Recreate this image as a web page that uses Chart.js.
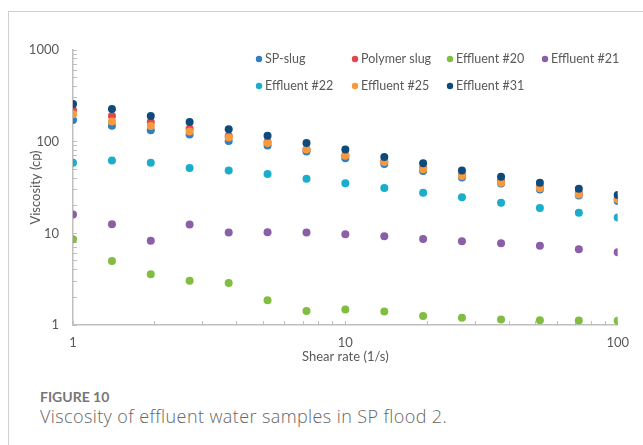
<!DOCTYPE html>
<html>
<head>
<meta charset="utf-8">
<script src="https://cdn.jsdelivr.net/npm/chart.js@4.4.1/dist/chart.umd.min.js"></script>
<style>
  html, body { margin: 0; padding: 0; background: #fff; }
  body { width: 643px; height: 445px; position: relative; overflow: hidden; font-family: Lato, "Open Sans", sans-serif; }
  .frame { position: absolute; left: 8px; top: 11px; right: -4px; bottom: -4px; border-top: 1.5px solid #d0d0d0; border-left: 1.5px solid #d0d0d0; }
  #wrap { position: absolute; left: 0; top: 0; width: 643px; height: 368px; }
  .fig { position: absolute; left: 40px; top: 389px; font-size: 14px; line-height: 16px; font-weight: bold; color: #777; }
  .cap { position: absolute; left: 40px; top: 405px; font-family: "Open Sans", Lato, sans-serif; font-size: 18px; font-weight: 300; letter-spacing: 0.4px; line-height: 22px; color: #666; }
</style>
</head>
<body>
<div class="frame"></div>
<div id="wrap"><canvas id="viscChart"></canvas></div>
<div class="fig">FIGURE 10</div>
<div class="cap">Viscosity of effluent water samples in SP flood 2.</div>
<script>
// shear rates (1/s)
const shearRate = [1, 1.39, 1.93, 2.68, 3.73, 5.18, 7.2, 10, 13.9, 19.3, 26.8, 37.3, 51.8, 72, 100];

// viscosity (cp)
const spSlug      = [172, 149, 133, 120, 102, 91, 78, 66, 57, 47.8, 40.6, 34.9, 30, 25.8, 22.5];
const polymerSlug = [221, 190, 164, 138, 115, 99, 82, 71, 61, 51.5, 43.2, 37.2, 32, 27.5, 24];
const eff20       = [8.6, 5.0, 3.57, 3.04, 2.87, 1.86, 1.42, 1.48, 1.40, 1.25, 1.20, 1.15, 1.13, 1.12, 1.11];
const eff21       = [16.0, 12.6, 8.3, 12.5, 10.2, 10.3, 10.2, 9.8, 9.3, 8.7, 8.2, 7.8, 7.3, 6.7, 6.2];
const eff22       = [58.9, 62.5, 58.9, 51.5, 48.6, 44.3, 39.4, 35.1, 31.2, 27.7, 24.7, 21.6, 18.9, 16.8, 14.9];
const eff25       = [199, 166, 148, 129, 111, 97, 82, 70, 60, 49.9, 42.2, 35.6, 31, 26.6, 23.5];
const eff31       = [257, 227, 190, 164, 137, 116, 97, 82, 68, 58, 48.6, 41.4, 35.6, 30.6, 26.2];

const seriesNames  = ["SP-slug", "Polymer slug", "Effluent #20", "Effluent #21", "Effluent #22", "Effluent #25", "Effluent #31"];
const seriesValues = [spSlug, polymerSlug, eff20, eff21, eff22, eff25, eff31];
const seriesColors = ["#2f7fc1", "#e0474c", "#80bd41", "#8b5ea8", "#1aaecc", "#f89a3c", "#0e4a7c"];

// tick marks and labelled ticks
const xTickValues = [1, 2, 3, 4, 5, 6, 7, 8, 9, 10, 20, 30, 40, 50, 60, 70, 80, 90, 100];
const xTickLabels = [1, 10, 100];
const yTickValues = [1, 2, 3, 4, 5, 6, 7, 8, 9, 10, 20, 30, 40, 50, 60, 70, 80, 90, 100,
                     200, 300, 400, 500, 600, 700, 800, 900, 1000];
const yTickLabels = [1, 10, 100, 1000];

const textColor = "#595959";
const axisColor = "#bfbfbf";
const fontFamily = "Lato, 'Open Sans', sans-serif";

const datasets = seriesNames.map((name, i) => ({
  label: name,
  data: shearRate.map((x, j) => ({ x: x, y: seriesValues[i][j] })),
  backgroundColor: seriesColors[i],
  borderColor: seriesColors[i],
  borderWidth: 0,
  pointRadius: 4,
  pointHoverRadius: 4,
  showLine: false,
  order: seriesNames.length - i,
}));

// Excel-like legend inside the plot: 4 columns, 2 rows
const legendGrid = {
  id: "legendGrid",
  afterDraw(chart) {
    const ctx = chart.ctx;
    const cols = [259, 355, 450, 545];
    const rows = [59, 86];
    ctx.save();
    ctx.font = "12.5px " + fontFamily;
    ctx.textBaseline = "middle";
    ctx.textAlign = "left";
    chart.data.datasets.forEach((ds, i) => {
      const cx = cols[i % 4];
      const cy = rows[Math.floor(i / 4)];
      ctx.fillStyle = ds.backgroundColor;
      ctx.beginPath();
      ctx.arc(cx, cy, 3.2, 0, Math.PI * 2);
      ctx.fill();
      ctx.fillStyle = textColor;
      ctx.fillText(ds.label, cx + 6, cy);
    });
    ctx.restore();
  },
};

const ctx = document.getElementById("viscChart").getContext("2d");
new Chart(ctx, {
  type: "scatter",
  data: { datasets: datasets },
  options: {
    responsive: true,
    maintainAspectRatio: false,
    animation: false,
    layout: { padding: { top: 50, right: 24, left: 0, bottom: 0 } },
    plugins: {
      legend: { display: false },
      tooltip: { enabled: false },
    },
    scales: {
      x: {
        type: "logarithmic",
        position: "bottom",
        min: 1,
        max: 100,
        afterBuildTicks: (scale) => { scale.ticks = xTickValues.map((v) => ({ value: v })); },
        afterFit: (scale) => { scale.height = 43; },
        border: { color: axisColor, width: 1.5 },
        grid: { drawOnChartArea: false, drawTicks: true, tickLength: -4, color: axisColor, lineWidth: 1 },
        ticks: {
          autoSkip: false,
          maxRotation: 0,
          padding: 14,
          color: textColor,
          font: { family: fontFamily, size: 13 },
          callback: (v) => (xTickLabels.includes(v) ? String(v) : ""),
        },
        title: {
          display: true,
          text: "Shear rate (1/s)",
          color: textColor,
          font: { family: fontFamily, size: 13 },
          padding: { top: 0, bottom: 3 },
        },
      },
      y: {
        type: "logarithmic",
        min: 1,
        max: 1000,
        afterBuildTicks: (scale) => { scale.ticks = yTickValues.map((v) => ({ value: v })); },
        afterFit: (scale) => { scale.width = 73; },
        border: { color: axisColor, width: 1.5 },
        grid: { drawOnChartArea: false, drawTicks: true, tickLength: -4, color: axisColor, lineWidth: 1 },
        ticks: {
          autoSkip: false,
          padding: 18,
          color: textColor,
          font: { family: fontFamily, size: 13 },
          callback: (v) => (yTickLabels.includes(v) ? String(v) : ""),
        },
        title: {
          display: true,
          text: "Viscosity (cp)",
          color: textColor,
          font: { family: fontFamily, size: 13 },
          padding: { top: 28, bottom: 0 },
        },
      },
    },
  },
  plugins: [legendGrid],
});
</script>
</body>
</html>
